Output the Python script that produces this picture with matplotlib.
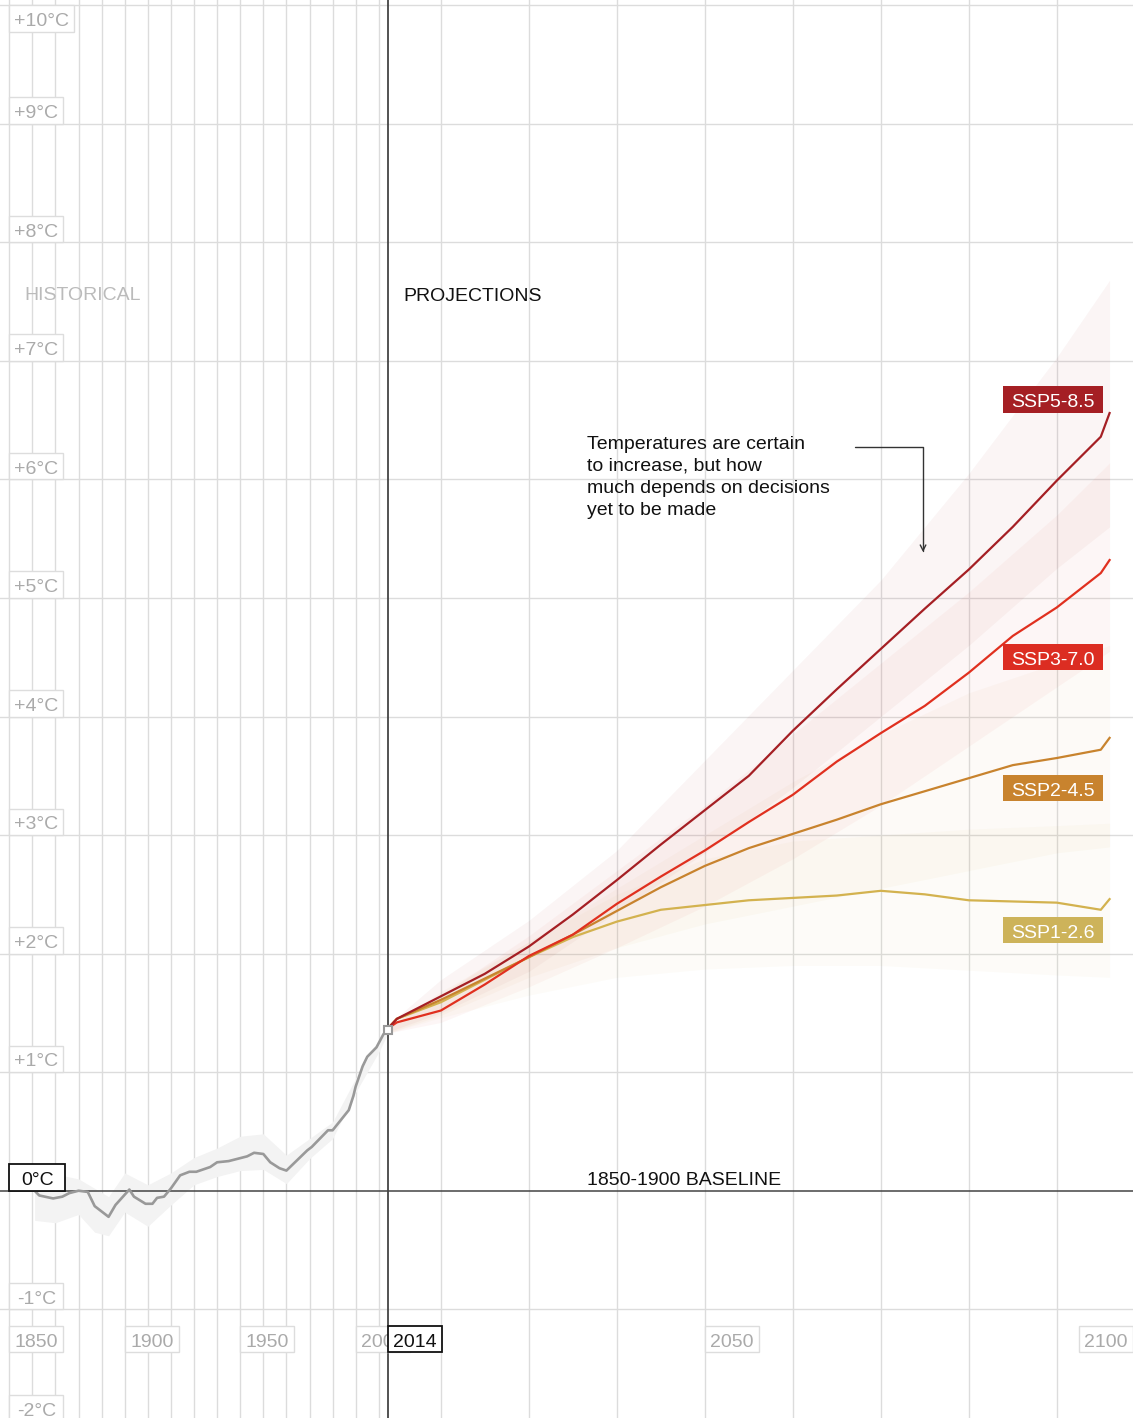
import numpy as np
import matplotlib
matplotlib.use("Agg")
import matplotlib.pyplot as plt
from matplotlib.patches import Rectangle
from matplotlib.transforms import IdentityTransform

plt.rcParams["font.family"] = ["Liberation Sans", "DejaVu Sans"]

# --- observed warming (anomaly vs 1850-1900, smoothed) ---
hist_years = [1861, 1863, 1869, 1873, 1876, 1880, 1884, 1887, 1893, 1896,
              1902, 1904, 1909, 1912, 1914, 1917, 1920, 1924, 1928, 1931,
              1937, 1940, 1945, 1953, 1956, 1960, 1963, 1967, 1970, 1979,
              1981, 1988, 1990, 1997, 1999, 2000, 2003, 2005, 2009, 2012, 2014]
hist_temp = [0.00, -0.04, -0.065, -0.05, -0.02, 0.00, -0.01, -0.13, -0.22, -0.12,
             0.01, -0.05, -0.11, -0.11, -0.06, -0.05, 0.02, 0.13, 0.16, 0.16,
             0.20, 0.24, 0.25, 0.29, 0.32, 0.31, 0.24, 0.19, 0.17, 0.34,
             0.37, 0.51, 0.51, 0.68, 0.80, 0.88, 1.05, 1.13, 1.21, 1.32, 1.36]

hist_band_years = [1861, 1870, 1880, 1887, 1893, 1900, 1910, 1920, 1930, 1940,
                   1950, 1960, 1970, 1980, 1990, 2000, 2010, 2014]
hist_band_lo = [-0.25, -0.27, -0.20, -0.35, -0.38, -0.18, -0.30, -0.12, 0.05, 0.12,
                0.17, 0.18, 0.06, 0.27, 0.44, 0.83, 1.17, 1.33]
hist_band_hi = [0.17, 0.14, 0.10, 0.02, -0.05, 0.15, 0.05, 0.15, 0.28, 0.36,
                0.46, 0.48, 0.30, 0.44, 0.58, 0.95, 1.27, 1.38]

# --- scenario projections ---
proj_years = [2014, 2015, 2020, 2025, 2030, 2035, 2040, 2045, 2050, 2055,
              2060, 2065, 2070, 2075, 2080, 2085, 2090, 2095, 2096]
ssp585 = [1.37, 1.45, 1.64, 1.83, 2.06, 2.33, 2.62, 2.92, 3.21, 3.50,
          3.88, 4.23, 4.57, 4.91, 5.24, 5.60, 5.99, 6.36, 6.56]
ssp370 = [1.37, 1.42, 1.52, 1.74, 1.98, 2.16, 2.42, 2.65, 2.87, 3.11,
          3.34, 3.62, 3.86, 4.09, 4.37, 4.68, 4.92, 5.21, 5.32]
ssp245 = [1.37, 1.45, 1.61, 1.79, 1.97, 2.16, 2.36, 2.56, 2.74, 2.89,
          3.01, 3.13, 3.26, 3.37, 3.48, 3.59, 3.65, 3.72, 3.82]
ssp126 = [1.37, 1.45, 1.59, 1.78, 1.97, 2.14, 2.27, 2.37, 2.41, 2.45,
          2.47, 2.49, 2.53, 2.50, 2.45, 2.44, 2.43, 2.37, 2.46]

band_years = [2014, 2020, 2030, 2040, 2050, 2060, 2070, 2080, 2090, 2096]
ssp585_lo = [1.34, 1.50, 1.85, 2.35, 2.85, 3.40, 4.00, 4.60, 5.25, 5.60]
ssp585_hi = [1.40, 1.78, 2.28, 2.87, 3.63, 4.39, 5.15, 6.05, 7.03, 7.68]
ssp370_lo = [1.33, 1.42, 1.72, 2.05, 2.40, 2.80, 3.25, 3.75, 4.25, 4.55]
ssp370_hi = [1.38, 1.65, 2.15, 2.70, 3.25, 3.85, 4.45, 5.05, 5.70, 6.14]
ssp245_lo = [1.33, 1.48, 1.80, 2.05, 2.25, 2.40, 2.55, 2.70, 2.85, 2.90]
ssp245_hi = [1.38, 1.68, 2.10, 2.55, 3.00, 3.45, 3.85, 4.20, 4.45, 4.60]
ssp126_lo = [1.33, 1.46, 1.65, 1.80, 1.87, 1.90, 1.90, 1.86, 1.82, 1.80]
ssp126_hi = [1.38, 1.66, 2.10, 2.50, 2.80, 2.95, 3.00, 3.05, 3.08, 3.10]

scenario_names = ["SSP5-8.5", "SSP3-7.0", "SSP2-4.5", "SSP1-2.6"]
scenario_colors = ["#a51f24", "#e0301f", "#c8832e", "#d3b24f"]
tag_colors = ["#a51f24", "#dc2d22", "#c8832e", "#cdb35a"]
band_alpha = [0.045, 0.04, 0.035, 0.04]

temp_ticks = [10, 9, 8, 7, 6, 5, 4, 3, 2, 1, 0, -1, -2]
year_ticks = [1850, 1900, 1950, 2000, 2050, 2100]

SPLIT = 2014
PX_HIST, PX_PROJ = 2.31, 8.8   # pixels per year either side of 2014


def fwd(x):
    x = np.asarray(x, dtype=float)
    return np.where(x < SPLIT, (x - SPLIT) * PX_HIST, (x - SPLIT) * PX_PROJ)


def inv(p):
    p = np.asarray(p, dtype=float)
    return np.where(p < 0, p / PX_HIST + SPLIT, p / PX_PROJ + SPLIT)


W, H = 1133, 1418
fig = plt.figure(figsize=(W / 100, H / 100), dpi=100)
ax = fig.add_axes([0, 0, 1, 1])
ax.set_xscale("function", functions=(fwd, inv))
ax.set_xlim(1846.0, 2098.66)
ax.set_ylim(-1.917, 10.044)
ax.set_axis_off()

GRID = "#dcdcdc"
for yr in range(1850, 2014, 10):
    ax.axvline(yr, color=GRID, lw=1.0, zorder=0)
for yr in range(2020, 2100, 10):
    ax.axvline(yr, color=GRID, lw=1.0, zorder=0)
for t in temp_ticks:
    if t != 0:
        ax.axhline(t, color=GRID, lw=1.0, zorder=0)

ax.axhline(0, color="#444444", lw=1.1, zorder=2)
ax.axvline(SPLIT, color="#444444", lw=1.3, zorder=2)

# uncertainty ranges
ax.fill_between(hist_band_years, hist_band_lo, hist_band_hi, color="#f3f3f3", lw=0, zorder=1)
bands = [(ssp585_lo, ssp585_hi), (ssp370_lo, ssp370_hi),
         (ssp245_lo, ssp245_hi), (ssp126_lo, ssp126_hi)]
for (lo, hi), c, a in zip(bands, scenario_colors, band_alpha):
    ax.fill_between(band_years, lo, hi, color=c, alpha=a, lw=0, zorder=1)

# central estimates
ax.plot(hist_years, hist_temp, color="#999999", lw=1.9, zorder=3,
        solid_joinstyle="round")
for series, c in zip([ssp126, ssp245, ssp370, ssp585], scenario_colors[::-1]):
    ax.plot(proj_years, series, color=c, lw=1.6, zorder=3, solid_joinstyle="round")
ax.plot([SPLIT], [hist_temp[-1]], marker="s", ms=6, mfc="white", mec="#999999",
        mew=1.5, zorder=4)

renderer = fig.canvas.get_renderer()
FS = 14


def tag(px, py, text, fg, face="white", edge=None, lw=1.0, align="left",
        w_min=54, pad=8, h=26.5, z=5):
    """Boxed label; (px, py) is the bottom-left (or bottom-right) corner in pixels."""
    t = ax.text(0, 0, text, transform=IdentityTransform(), fontsize=FS, color=fg,
                ha="center", va="center_baseline", zorder=z + 0.1)
    w = max(w_min, t.get_window_extent(renderer).width + 2 * pad)
    x0 = px if align == "left" else px - w
    t.set_position((x0 + w / 2, py + h / 2 - 1))
    ax.add_patch(Rectangle((x0, py), w, h, transform=IdentityTransform(),
                           facecolor=face, edgecolor=edge if edge else "none",
                           lw=lw, zorder=z, clip_on=False))


def to_px(x, y):
    return ax.transData.transform((x, y))


# temperature labels
for t in temp_ticks:
    px, py = to_px(1850, t)
    py = min(max(py, -3.6), H - 5.3 - 26.5)
    if t == 0:
        tag(px, py, "0°C", fg="#111111", edge="#111111", lw=1.3, w_min=56)
    else:
        tag(px, py, f"{t:+d}°C" if t > 0 else f"{t}°C",
            fg="#aaaaaa", edge="#dddddd", pad=5)

# year labels
_, ybox = to_px(2000, -1.363)
for yr in year_ticks:
    px, _ = to_px(yr, 0)
    if yr == 2100:
        tag(W, ybox, str(yr), fg="#aaaaaa", edge="#dddddd", align="right", pad=5)
    else:
        tag(px, ybox, str(yr), fg="#aaaaaa", edge="#dddddd", pad=5)
px, _ = to_px(SPLIT, 0)
tag(px, ybox, "2014", fg="#111111", edge="#111111", lw=1.3, z=6, pad=5)

# scenario labels
tag_y = [6.674, 4.502, 3.397, 2.199]
for name, c, ty in zip(scenario_names, tag_colors, tag_y):
    rx, cy = to_px(2095.25, ty)
    tag(rx, cy - 13.25, name, fg="white", face=c, align="right", pad=8)

# section and annotation text
ax.text(1856.4, 7.513, "HISTORICAL", fontsize=FS, color="#bbbbbb", va="baseline")
ax.text(2015.7, 7.507, "PROJECTIONS", fontsize=FS, color="#111111", va="baseline")
ax.text(2036.6, 0.048, "1850-1900 BASELINE", fontsize=FS, color="#111111",
        va="baseline")
ax.text(2036.6, 5.700,
        "Temperatures are certain\nto increase, but how\nmuch depends on decisions\nyet to be made",
        fontsize=FS, color="#111111", va="baseline", linespacing=1.39, zorder=6)
ax.annotate("", xy=(2074.8, 5.387), xytext=(2067.07, 6.273),
            arrowprops=dict(arrowstyle="->", color="#333333", lw=1.0,
                            shrinkA=0, shrinkB=0, mutation_scale=10,
                            connectionstyle="angle,angleA=0,angleB=90,rad=0"))

fig.savefig("out.png", dpi=100, facecolor="white")
